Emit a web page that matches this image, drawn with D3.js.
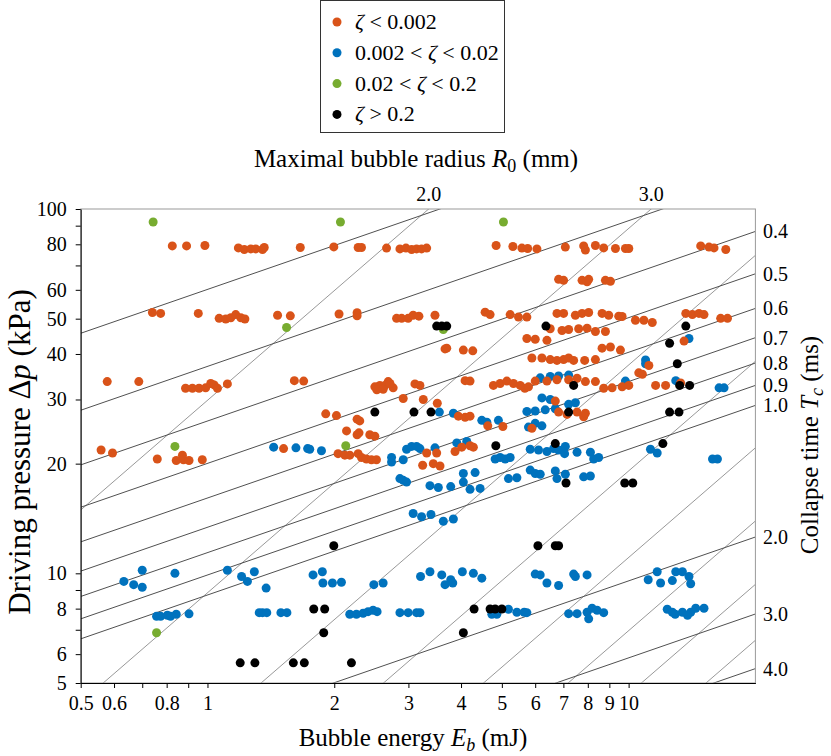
<!DOCTYPE html>
<html>
<head>
<meta charset="utf-8">
<script src="https://cdn.jsdelivr.net/npm/d3@7"></script>
<style>
body { margin: 0; background: #fff; }
text { font-family: "Liberation Serif", "Times New Roman", serif; fill: #000; }
</style>
</head>
<body>
<svg id="chart"></svg>
<script>
const width = 831, height = 756;
const svg = d3.select("#chart").attr("width", width).attr("height", height);

// bubble energy E_b (mJ), driving pressure dp (kPa)
const zetaLow = [ // zeta < 0.002
  [0.825,79.2],[0.892,79.2],[0.986,79.4],[1.184,78.2],[1.223,77.4],[1.267,77.7],[1.302,77.7],[1.351,77.4],[1.364,78.4],[1.661,78.4],[1.995,78.7],[2.279,78.4],[2.321,78.4],[2.662,78.1],[2.864,77.7],[2.960,78.1],[3.053,77.4],[3.137,77.7],[3.224,77.7],[3.315,78.1],[4.846,79.4],[5.311,78.9],[5.579,78.1],[5.758,77.9],[6.057,77.7],[7.075,78.6],[7.821,79.2],[7.895,77.2],[8.339,79.4],[8.726,78.2],[9.305,77.9],[9.827,77.9],[10.01,77.9],[14.83,79.2],[15.52,78.6],[15.95,78.2],[17.01,77.4],
  [6.819,64.1],[7.008,63.7],[7.753,63.7],[7.968,63.1],[8.038,64.1],[8.808,63.7],[9.053,63.3],
  [0.740,52.0],[0.774,51.7],[0.951,51.7],[1.066,50.1],[1.105,49.9],[1.136,50.3],[1.167,51.3],[1.200,50.3],[1.227,49.9],[1.467,51.1],[1.573,50.9],[2.053,51.5],[2.266,51.9],[2.266,50.9],[2.812,50.1],[2.891,50.1],[2.996,50.1],[3.079,51.1],[3.177,50.8],[3.469,51.1],[4.563,52.1],[4.689,51.3],[5.233,51.3],[5.476,50.5],[5.733,50.5],[6.759,51.7],[7.008,51.7],[7.474,51.1],[7.753,51.7],[8.038,52.0],[8.649,51.7],[8.969,51.1],[9.474,50.8],[9.651,50.7],[10.38,49.5],[10.87,49.5],[11.38,48.8],[13.67,51.7],[14.17,51.3],[14.69,51.7],[15.10,51.3],[16.54,50.1],[17.17,50.1],
  [6.514,46.9],[6.947,46.4],[7.204,46.7],[7.610,46.9],[7.968,47.1],[8.339,46.1],[8.808,46.1],
  [5.733,44.1],[6.001,43.9],[6.398,43.6],[8.649,41.5],[9.053,41.8],[9.562,41.0],[3.699,41.5],[3.665,41.3],[4.051,41.0],[4.265,40.8],[13.54,43.4],
  [5.893,39.0],[6.225,39.0],[6.514,38.6],[6.759,38.4],[7.008,38.6],[7.204,39.0],[7.404,38.4],[7.864,38.4],[8.339,38.6],[11.17,37.2],[10.57,35.5],[10.78,35.2],
  [6.001,33.7],[6.398,33.7],[6.759,34.0],[7.204,34.0],[7.543,34.3],[7.895,33.6],[8.339,33.6],[5.670,32.2],[8.726,32.2],[9.137,32.3],[9.651,32.5],[10.01,32.8],[11.59,32.8],[12.24,32.8],[13.29,33.3],
  [1.692,33.7],[1.608,33.8],[2.497,32.5],[2.566,32.8],[2.638,32.8],[2.686,33.6],[2.760,32.3],[2.524,31.9],[2.613,32.0],[2.712,33.2],[3.109,33.1],[3.195,32.8],[4.090,33.8],[4.202,33.7],[4.775,32.8],[4.954,33.2],[5.139,33.7],[5.328,33.2],[5.528,32.8],[5.784,32.5],
  [2.916,30.2],[3.254,30.0],[3.513,29.3],[6.697,29.7],
  [6.819,27.7],[7.141,27.3],[7.543,27.7],[7.821,26.9],[7.895,27.5],
  [1.909,27.4],[2.024,27.1],[2.266,26.5],[2.299,26.2],[2.139,24.6],[2.266,24.0],[2.290,24.3],[2.429,24.0],[2.497,23.8],[3.942,27.0],[4.090,26.8],[4.202,27.0],[4.630,25.4],[5.028,25.3],[5.893,25.0],
  [0.559,21.8],[0.595,21.4],[0.760,20.6],[0.843,20.4],[0.872,21.1],[0.877,20.5],[0.904,20.4],[0.972,20.5],[1.516,22.0],[2.042,21.3],[2.119,21.1],[2.177,21.1],[2.279,21.3],[2.321,20.8],[2.385,20.6],[2.451,20.5],[2.519,20.5],[3.315,21.4],[3.501,21.4],[3.243,19.8],[3.437,20.0],[3.566,19.7],[3.871,21.6],[4.016,22.2],[4.202,22.4],[4.279,22.2],
  [0.578,33.6],[0.687,33.6],[0.887,32.2],[0.921,32.2],[0.955,32.2],[0.990,32.3],[1.018,33.2],[1.037,32.9],[1.056,32.2],[1.115,33.1]
];
const zetaMid = [ // 0.002 < zeta < 0.02
  [1.436,22.2],[1.622,22.1],[1.729,22.0],[1.749,21.9],[1.865,21.7],
  [2.736,20.2],[2.736,20.8],[2.916,20.5],[2.970,21.9],[3.053,22.3],[3.137,22.3],[3.195,22.0],[3.469,22.1],[3.908,22.8],[4.127,23.0],
  [4.820,20.6],[4.954,20.8],[5.092,20.6],[5.233,20.8],[5.839,19.2],
  [5.839,21.9],[6.110,21.8],[6.398,21.6],[6.634,22.0],[6.819,21.8],[7.075,22.3],[7.047,21.3],[7.543,21.5],[8.114,21.5],[8.261,20.6],[8.489,20.8],[11.27,21.9],[11.69,21.4],[15.82,20.6],[16.25,20.6],
  [6.001,18.8],[6.167,18.7],[6.697,19.1],[6.759,18.2],[7.075,18.7],[7.821,18.4],[8.114,18.5],
  [2.864,18.2],[2.916,18.0],[2.970,17.8],[3.375,17.4],[3.533,17.2],[3.781,17.3],[4.051,18.8],[4.051,17.8],[4.320,18.9],[4.202,17.0],[4.440,17.1],[5.184,18.2],[5.428,18.3],
  [3.079,14.6],[3.224,14.3],[3.394,14.5],[3.631,13.9],[3.836,14.1],
  [0.633,9.50],[0.668,9.31],[0.700,9.16],[0.700,10.2],[0.837,10.0],[1.115,10.2],[1.205,9.80],[1.244,9.50],[1.292,10.1],[1.378,9.11],
  [1.781,9.90],[1.874,10.1],[1.880,9.41],[1.980,9.41],[2.080,9.45],[2.483,9.31],[2.613,9.41],[3.206,9.80],[3.375,10.1],[3.600,9.90],[3.781,9.60],[3.665,9.31],[3.823,9.41],[4.029,10.1],[4.279,10.0],[4.481,9.70],
  [6.001,9.95],[6.167,9.90],[6.398,9.41],[6.819,9.26],[7.404,9.95],[7.474,9.80],[7.968,9.90],[11.13,9.60],[11.69,10.1],[11.91,9.41],[12.70,9.55],[12.94,10.1],[13.42,10.1],[13.91,9.80],[14.04,9.36],
  [0.757,7.62],[0.774,7.62],[0.803,7.67],[0.817,7.62],[0.843,7.72],[0.904,7.74],[1.327,7.80],[1.351,7.80],[1.383,7.80],[1.494,7.80],[1.544,7.80],
  [2.177,7.72],[2.258,7.72],[2.342,7.77],[2.406,7.85],[2.473,7.92],[2.528,7.85],[2.864,7.80],[2.996,7.80],[3.137,7.80],[3.195,7.80],[4.734,7.72],[4.865,7.72],[5.184,7.97],[5.428,7.82],[5.650,7.82],
  [5.733,7.80],[7.204,7.75],[7.543,7.75],[7.968,7.82],[8.038,7.50],[8.189,8.02],[8.415,7.92],[8.726,7.80],[12.35,7.97],[12.70,7.82],[13.42,7.82],[14.04,7.82],[14.43,8.02],[15.10,8.02],[12.9,7.72],[13.8,7.67],
  [3.553,27.7],[3.836,27.5],[4.481,26.3],[4.606,26.0],[4.907,26.3],[5.784,25.2],[6.001,25.8],[6.225,25.4],[5.733,27.8],[6.001,27.9],[6.339,28.1],[6.697,28.3],[6.225,30.3],[6.514,30.0],[7.204,29.1],[7.474,29.4],
  [6.167,34.4],[6.514,34.7],[6.819,34.8],[7.204,35.0],[9.827,33.7],[12.94,33.8],[16.40,32.3],[16.85,32.3],[10.97,38.5],[10.97,37.6],[13.91,44.1]
];
const zetaHigh = [ // 0.02 < zeta < 0.2
  [0.743,92.1],[2.069,92.1],[5.044,92.1],[1.541,47.3],[0.837,22.3],[2.130,22.4],[0.757,6.87],[3.631,46.7]
];
const zetaTop = [ // zeta > 0.2
  [1.196,5.68],[1.296,5.68],[1.599,5.68],[1.698,5.68],[2.197,5.68],
  [1.788,7.98],[1.898,7.98],[4.296,7.98],[4.689,7.98],[4.820,7.98],[5.000,7.98],
  [1.888,6.87],[4.051,6.87],
  [1.995,11.9],[6.090,11.9],[6.697,11.9],[6.819,11.9],
  [7.101,17.7],[9.790,17.7],[10.23,17.7],
  [6.697,22.7],[12.06,22.7],[4.838,22.4],
  [2.497,27.7],[3.092,27.7],[3.394,27.7],[7.204,27.7],[12.51,27.7],[13.17,27.7],
  [7.404,32.8],[13.22,32.8],[13.96,32.8],
  [13.05,37.6],[12.51,42.8],[6.363,47.7],[13.67,47.7],[3.501,47.7],[3.600,47.7],[3.699,47.7]
];

const series = [
  {name: "high", data: zetaHigh, color: "#77ac30"},
  {name: "mid", data: zetaMid, color: "#0072bd"},
  {name: "low", data: zetaLow, color: "#d95319"},
  {name: "top", data: zetaTop, color: "#000000"}
];

const radii = [2, 3, 4, 5, 6, 7, 8, 9];              // R0 (mm)
const radiusLabels = [2, 3];
const collapseTimes = [0.2, 0.3, 0.4, 0.5, 0.6, 0.7, 0.8, 0.9, 1.0, 2.0, 3.0, 4.0]; // Tc (ms)
const timeLabels = [0.4, 0.5, 0.6, 0.7, 0.8, 0.9, 1.0, 2.0, 3.0, 4.0];

const xTicks = [0.5, 0.6, 0.7, 0.8, 0.9, 1, 2, 3, 4, 5, 6, 7, 8, 9, 10];
const xLabels = [0.5, 0.6, 0.8, 1, 2, 3, 4, 5, 6, 7, 8, 9, 10];
const yTicks = [5, 6, 7, 8, 9, 10, 20, 30, 40, 50, 60, 70, 80, 90, 100];
const yLabels = [5, 6, 8, 10, 20, 30, 40, 50, 60, 80, 100];

const x = d3.scaleLog().domain([0.5, 20]).range([80.7, 755.4]);
const y = d3.scaleLog().domain([5, 100]).range([683, 209]);

// E = 4/3 pi R^3 dp  ->  dp(kPa) = 1000 E(mJ) / (4/3 pi R(mm)^3)
const dpRadius = (E, R) => 1000 * E / (4 / 3 * Math.PI * R * R * R);
// Rayleigh collapse time, Tc ~ R0 sqrt(rho/dp)  ->  dp ~ Tc^-1.2 E^0.4 (constant fitted to the plot)
const dpTime = (E, T) => 8.72 * Math.pow(T, -1.2) * Math.pow(E, 0.4);

svg.append("clipPath").attr("id", "plotclip")
  .append("rect").attr("x", 80.7).attr("y", 209).attr("width", 755.4 - 80.7).attr("height", 683 - 209);

const lines = svg.append("g").attr("clip-path", "url(#plotclip)");
const line = d3.line().x(d => x(d[0])).y(d => y(d[1]));
const ends = x.domain();

lines.selectAll(".rline").data(radii).enter().append("path")
  .attr("d", R => line(ends.map(E => [E, dpRadius(E, R)])))
  .attr("fill", "none").attr("stroke", "#8c8c8c").attr("stroke-width", 0.9);

lines.selectAll(".tline").data(collapseTimes).enter().append("path")
  .attr("d", T => line(ends.map(E => [E, dpTime(E, T)])))
  .attr("fill", "none").attr("stroke", "#505050").attr("stroke-width", 1);

// frame
svg.append("rect").attr("x", 80.7).attr("y", 209).attr("width", 755.4 - 80.7).attr("height", 683 - 209)
  .attr("fill", "none").attr("stroke", "#9a9a9a").attr("stroke-width", 1);

const dots = svg.append("g");
series.forEach(s => {
  dots.selectAll(null).data(s.data).enter().append("circle")
    .attr("cx", d => x(d[0])).attr("cy", d => y(d[1]))
    .attr("r", 4.5).attr("fill", s.color);
});

// axes
const xAxis = svg.append("g").attr("transform", "translate(0,683)")
  .call(d3.axisBottom(x).tickValues(xTicks).tickSize(5).tickSizeOuter(0)
    .tickFormat(d => xLabels.includes(d) ? String(d) : ""));
const yAxis = svg.append("g").attr("transform", "translate(80.7,0)")
  .call(d3.axisLeft(y).tickValues(yTicks).tickSize(5).tickSizeOuter(0)
    .tickFormat(d => yLabels.includes(d) ? String(d) : ""));
[xAxis, yAxis].forEach(a => {
  a.select(".domain").attr("stroke", "#000");
  a.selectAll("text").attr("font-family", "Liberation Serif").attr("font-size", 20).attr("fill", "#000");
});
xAxis.selectAll("text").attr("dy", "0.95em");
yAxis.selectAll("text").attr("x", -14);

// top labels: R0 lines crossing the top edge
svg.selectAll(".rlab").data(radiusLabels).enter().append("text")
  .attr("x", R => x(1e-3 * 4 / 3 * Math.PI * R * R * R * y.domain()[1]))
  .attr("y", 201).attr("text-anchor", "middle").attr("font-size", 20)
  .text(R => R.toFixed(1));

// right labels: Tc lines crossing the right edge
svg.selectAll(".tlab").data(timeLabels).enter().append("text")
  .attr("x", 763).attr("y", T => y(dpTime(ends[1], T)))
  .attr("dy", "0.35em").attr("font-size", 20)
  .text(T => T.toFixed(1));

// axis titles
const title = (tx, ty, rot, parts) => {
  const t = svg.append("text").attr("transform", `translate(${tx},${ty}) rotate(${rot})`)
    .attr("text-anchor", "middle").attr("font-size", 25);
  parts.forEach(p => {
    const s = t.append("tspan").text(p.t);
    if (p.i) s.attr("font-style", "italic");
    if (p.sub) s.attr("font-size", 18).attr("dy", 5);
    if (p.back) s.attr("dy", -5);
  });
  return t;
};
title(413, 746, 0, [{t: "Bubble energy "}, {t: "E", i: true}, {t: "b", i: true, sub: true}, {t: " (mJ)", back: true}]);
title(416, 167, 0, [{t: "Maximal bubble radius "}, {t: "R", i: true}, {t: "0", sub: true}, {t: " (mm)", back: true}]);
title(30, 452, -90, [{t: "Driving pressure Δ"}, {t: "p", i: true}, {t: " (kPa)"}])
  .attr("font-size", 31);
title(818, 445, -90, [{t: "Collapse time "}, {t: "T", i: true}, {t: "c", i: true, sub: true}, {t: " (ms)", back: true}]);

// legend
const legendItems = [
  {color: "#d95319", parts: [{t: "ζ", i: true}, {t: " < 0.002"}]},
  {color: "#0072bd", parts: [{t: "0.002 < "}, {t: "ζ", i: true}, {t: " < 0.02"}]},
  {color: "#77ac30", parts: [{t: "0.02 < "}, {t: "ζ", i: true}, {t: " < 0.2"}]},
  {color: "#000000", parts: [{t: "ζ", i: true}, {t: " > 0.2"}]}
];
const legend = svg.append("g");
legend.append("rect").attr("x", 320.5).attr("y", 0.5).attr("width", 184).attr("height", 132)
  .attr("fill", "#fff").attr("stroke", "#333").attr("stroke-width", 1);
legendItems.forEach((it, i) => {
  const cy = 22 + i * 30.8;
  legend.append("circle").attr("cx", 337).attr("cy", cy).attr("r", 4.5).attr("fill", it.color);
  const t = legend.append("text").attr("x", 355).attr("y", cy + 7).attr("font-size", 22);
  it.parts.forEach(p => {
    const s = t.append("tspan").text(p.t);
    if (p.i) s.attr("font-style", "italic");
  });
});
</script>
</body>
</html>
